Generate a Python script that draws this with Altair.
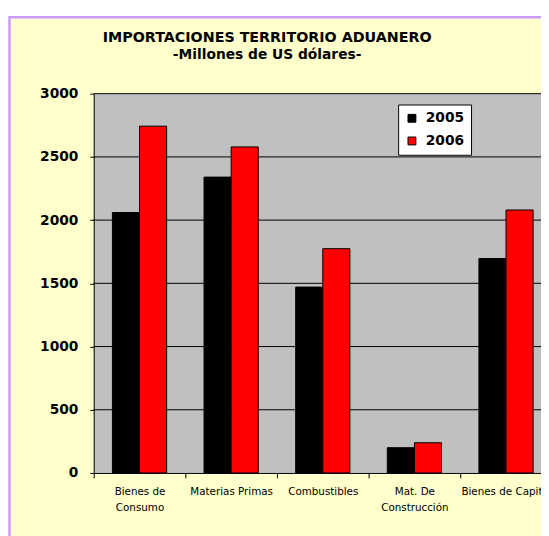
import altair as alt
import pandas as pd

categorias = ["Bienes de\nConsumo", "Materias Primas", "Combustibles", "Mat. De\nConstrucción", "Bienes de Capital"]
anios = ["2005", "2006"]
valores_2005 = [2060, 2340, 1470, 200, 1696]
valores_2006 = [2743, 2579, 1774, 239, 2080]
colores = ["#000000", "#FF0000"]
ticks_y = [0, 500, 1000, 1500, 2000, 2500, 3000]
titulo = "IMPORTACIONES TERRITORIO ADUANERO"
subtitulo = "-Millones de US dólares-"

rows = []
for c, v5, v6 in zip(categorias, valores_2005, valores_2006):
    rows.append({"Categoría": c, "Año": "2005", "Valor": v5})
    rows.append({"Categoría": c, "Año": "2006", "Valor": v6})
df = pd.DataFrame(rows)
grid_df = pd.DataFrame({"g": ticks_y[1:]})
area_df = pd.DataFrame({"top": [3000], "bottom": [0]})
frame_df = pd.DataFrame({"k": [1]})
title_df = pd.DataFrame({"t": [titulo]})
subtitle_df = pd.DataFrame({"t": [subtitulo]})

yscale = alt.Scale(domain=[0, 3000], nice=False, zero=True)
yaxis = alt.Axis(values=ticks_y, title=None, grid=False, zindex=1, format="d")

frame = alt.Chart(frame_df).mark_rect(
    fill="#FFFFCC", stroke="#CC99FF", strokeWidth=2.5
).encode(
    x=alt.value(-85.5), x2=alt.value(700), y=alt.value(-77.5), y2=alt.value(700)
)

title_mark = alt.Chart(title_df).mark_text(
    font="DejaVu Sans", fontSize=14.5, fontWeight="bold", color="#000000",
    align="center", baseline="middle"
).encode(text="t:N", x=alt.value(176), y=alt.value(-56))

subtitle_mark = alt.Chart(subtitle_df).mark_text(
    font="DejaVu Sans", fontSize=14, fontWeight="bold", color="#000000",
    align="center", baseline="middle"
).encode(text="t:N", x=alt.value(176), y=alt.value(-39))

area = alt.Chart(area_df).mark_rect(fill="#C0C0C0").encode(
    x=alt.value(0), x2=alt.value(465),
    y=alt.Y("top:Q", scale=yscale, axis=yaxis),
    y2="bottom:Q",
)

grid = alt.Chart(grid_df).mark_rule(color="#000000", strokeWidth=1).encode(
    x=alt.value(0), x2=alt.value(465),
    y=alt.Y("g:Q", scale=yscale, axis=yaxis),
)

bars = alt.Chart(df).mark_bar(stroke="#000000", strokeWidth=1).encode(
    x=alt.X(
        "Categoría:N",
        sort=categorias,
        scale=alt.Scale(range=[0, 465], paddingInner=0, paddingOuter=0),
        axis=alt.Axis(
            title=None,
            labelAngle=0,
            tickBand="extent",
            labelExpr="split(datum.label, '\\n')",
            labelLineHeight=16,
            labelPadding=9,
            tickSize=5,
            zindex=1,
        ),
    ),
    xOffset=alt.XOffset("Año:N", scale=alt.Scale(paddingInner=0, paddingOuter=0.69)),
    y=alt.Y("Valor:Q", scale=yscale, axis=yaxis),
    color=alt.Color(
        "Año:N",
        scale=alt.Scale(domain=anios, range=colores),
        legend=alt.Legend(
            title=None,
            orient="none",
            legendX=309,
            legendY=11,
            fillColor="#FFFFFF",
            strokeColor="#000000",
            padding=7,
            rowPadding=9,
            symbolType="square",
            symbolSize=64,
            symbolStrokeColor="#000000",
            symbolStrokeWidth=1,
            labelFont="DejaVu Sans",
            labelFontSize=14,
            labelFontWeight="bold",
            labelColor="#000000",
            labelOffset=7,
        ),
    ),
)

chart = alt.layer(frame, title_mark, subtitle_mark, area, grid, bars).properties(
    width=454,
    height=385,
    autosize=alt.AutoSizeParams(type="none"),
    padding={"left": 87, "top": 83, "right": 0, "bottom": 60},
    background="#FFFFFF",
).configure_view(
    stroke=None
).configure_axis(
    domainColor="#000000",
    domainWidth=1,
    tickColor="#000000",
    tickWidth=1,
    labelColor="#000000",
).configure_axisY(
    tickSize=4,
    labelPadding=12,
    labelFont="DejaVu Sans",
    labelFontSize=14,
    labelFontWeight="bold",
).configure_axisX(
    labelFont="DejaVu Sans",
    labelFontSize=10.5,
)

chart.save("out.html", embed_options={"renderer": "svg", "actions": False})
